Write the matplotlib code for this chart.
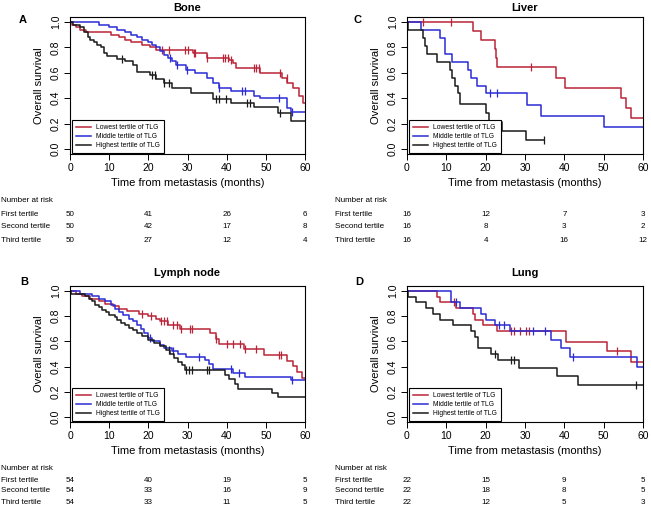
import numpy as np
import matplotlib
matplotlib.use("Agg")
import matplotlib.pyplot as plt
from matplotlib.transforms import blended_transform_factory

plt.rcParams['font.family'] = ['Liberation Sans', 'DejaVu Sans']

W, H = 651, 512

groups = ["Lowest tertile of TLG", "Middle tertile of TLG", "Highest tertile of TLG"]
colors = ["#bb2438", "#2b2bd6", "#1a1a1a"]
row_names = ["First tertile", "Second tertile", "Third tertile"]
risk_months = [0, 20, 40, 60]

# Bone: event times, survival after each event, censor times (low / mid / high)
bone_t = [
    [0.5, 1.5, 2.5, 4.0, 10.5, 12.5, 14.0, 15.5, 18.5, 20.5, 22.0, 31.5, 35.0, 40.5, 41.5, 42.5, 48.5, 54.0, 55.5, 57.0, 58.5, 59.5],
    [7.5, 10, 12, 14, 15.5, 17, 18.5, 20, 21, 22, 23, 24, 25, 26, 27, 29.5, 32, 35, 36.5, 38, 41, 47, 48.5, 55.5, 56.5],
    [0.7, 2.5, 3.5, 4.5, 5.2, 6, 7, 8, 8.8, 9.5, 12, 14, 16, 17, 20.5, 22, 24, 26, 31, 36.5, 41, 47, 53, 56.5],
]
bone_s = [
    [0.98, 0.96, 0.94, 0.92, 0.90, 0.88, 0.86, 0.84, 0.82, 0.80, 0.78, 0.76, 0.72, 0.70, 0.68, 0.64, 0.60, 0.56, 0.52, 0.48, 0.42, 0.36],
    [0.98, 0.96, 0.94, 0.92, 0.90, 0.88, 0.86, 0.84, 0.82, 0.80, 0.77, 0.74, 0.72, 0.69, 0.66, 0.62, 0.60, 0.56, 0.52, 0.48, 0.46, 0.42, 0.40, 0.32, 0.29],
    [0.98, 0.96, 0.92, 0.88, 0.86, 0.84, 0.82, 0.80, 0.76, 0.73, 0.71, 0.69, 0.66, 0.61, 0.58, 0.55, 0.52, 0.48, 0.44, 0.39, 0.36, 0.33, 0.28, 0.22],
]
bone_c = [
    [23.5, 25.2, 29.4, 30.1, 31.6, 32.0, 35.0, 39.0, 39.7, 40.3, 41.1, 46.9, 47.6, 48.3, 53.7, 55.4],
    [25.6, 27.3, 29.9, 38.0, 43.9, 44.6, 53.3, 56.7],
    [13.3, 20.9, 21.6, 24.0, 25.4, 37.4, 38.0, 39.9, 45.2, 46.0, 53.7],
]
bone_end = [60, 60, 60]
bone_risk = [[50, 41, 26, 6], [50, 42, 17, 8], [50, 27, 12, 4]]

# Liver
liver_t = [
    [16.8, 18.7, 22.3, 22.7, 23.0, 38.0, 40.1, 54.3, 55.8, 56.9],
    [3.6, 8.3, 9.6, 11.5, 15.5, 16.3, 17.9, 20.2, 30.6, 34.0, 50.1],
    [0.3, 4.0, 4.5, 5.0, 7.5, 11.0, 11.5, 12.1, 13.0, 13.5, 20.2, 20.9, 24.2, 30.3],
]
liver_s = [
    [0.929, 0.857, 0.786, 0.714, 0.643, 0.5625, 0.482, 0.402, 0.321, 0.241],
    [0.9375, 0.875, 0.75, 0.6875, 0.625, 0.5625, 0.5, 0.4375, 0.35, 0.2625, 0.175],
    [0.9375, 0.875, 0.8125, 0.75, 0.6875, 0.625, 0.5625, 0.5, 0.4375, 0.355, 0.284, 0.213, 0.142, 0.071],
]
liver_c = [[4.1, 11.3, 31.6], [21.0, 22.8], [34.8]]
liver_end = [60, 60, 34.8]
liver_risk = [[16, 12, 7, 3], [16, 8, 3, 2], [16, 4, 16, 12]]

# Lymph node
lymph_t = [
    [1.5, 3, 5, 7.5, 9, 11, 12.5, 14.5, 17.5, 20, 22, 23, 25, 28, 35.8, 37.2, 38, 44.5, 49.5, 55.5, 57, 58, 59.3],
    [2.5, 5.5, 7.5, 9, 10.5, 11.5, 12.5, 13.5, 15, 16, 17, 18, 19, 19.8, 21, 23, 24, 26, 27.5, 29.5, 34.5, 35.5, 36.5, 41.5, 44.8, 56.3],
    [0.3, 3.8, 4.8, 5.6, 6.5, 7.5, 8.2, 9.2, 10, 11.5, 12, 13, 14, 15, 16, 17, 18.5, 20, 21.5, 23, 24.5, 25.5, 26.5, 27.5, 28.5, 29.3, 39.6, 40.6, 42, 43, 51.5, 53],
]
lymph_s = [
    [0.98, 0.96, 0.94, 0.92, 0.90, 0.88, 0.86, 0.84, 0.82, 0.80, 0.78, 0.76, 0.73, 0.70, 0.665, 0.62, 0.58, 0.54, 0.49, 0.445, 0.405, 0.36, 0.31],
    [0.98, 0.96, 0.94, 0.92, 0.89, 0.86, 0.83, 0.81, 0.78, 0.76, 0.73, 0.70, 0.67, 0.63, 0.60, 0.57, 0.55, 0.52, 0.50, 0.48, 0.45, 0.42, 0.38, 0.35, 0.32, 0.29],
    [0.98, 0.96, 0.94, 0.92, 0.89, 0.87, 0.85, 0.83, 0.81, 0.79, 0.77, 0.75, 0.73, 0.71, 0.69, 0.67, 0.64, 0.61, 0.59, 0.56, 0.53, 0.50, 0.47, 0.44, 0.41, 0.37, 0.33, 0.30, 0.26, 0.22, 0.19, 0.155],
]
lymph_c = [
    [18.3, 20.8, 23.2, 24.0, 24.8, 26.3, 27.2, 28.4, 30.6, 31.2, 37.3, 40.2, 41.6, 43.5, 44.6, 47.5, 53.3, 53.8],
    [20.5, 26.3, 32.9, 41.0, 43.1, 56.7],
    [25.2, 29.6, 30.4, 31.1, 35.0, 35.4],
]
lymph_end = [60, 60, 60]
lymph_risk = [[54, 40, 19, 5], [54, 33, 16, 9], [54, 33, 11, 5]]

# Lung
lung_t = [
    [7.7, 8.3, 12.5, 16.8, 17.4, 19.3, 23.0, 40.3, 50.9, 57.0],
    [11.1, 13.4, 18.9, 20.2, 22.3, 26.1, 36.5, 39.2, 41.4, 58.5],
    [0.3, 2.4, 4.9, 6.6, 8.3, 11.7, 16.2, 17.4, 18.0, 21.4, 23.1, 28.6, 38.2, 43.5],
]
lung_s = [
    [0.955, 0.909, 0.864, 0.818, 0.773, 0.727, 0.682, 0.597, 0.522, 0.435],
    [0.909, 0.864, 0.818, 0.773, 0.727, 0.682, 0.614, 0.546, 0.478, 0.398],
    [0.955, 0.909, 0.864, 0.818, 0.773, 0.727, 0.682, 0.636, 0.545, 0.50, 0.45, 0.386, 0.322, 0.257],
]
lung_c = [
    [12.0, 26.4, 27.3, 28.8, 30.3, 31.0, 53.5],
    [12.5, 23.5, 24.6, 32.0, 35.0, 42.1],
    [22.3, 26.5, 27.1, 58.3],
]
lung_end = [60, 60, 60]
lung_risk = [[22, 15, 9, 5], [22, 18, 8, 5], [22, 12, 5, 3]]


def px(x0, y0, x1, y1):
    # pixel box -> figure fraction rect
    return [x0 / W, 1 - y1 / H, (x1 - x0) / W, (y1 - y0) / H]


def km_curve(ax, t, s, cens, end, color):
    t = np.asarray(t, float)
    s = np.asarray(s, float)
    x = np.r_[0, t, end]
    y = np.r_[1, s, s[-1]]
    line, = ax.step(x, y, where='post', color=color, lw=1.1)
    if len(cens):
        idx = np.searchsorted(t, cens, side='right')
        cy = np.r_[1, s][idx]
        ax.plot(cens, cy, ls='none', marker='|', ms=6, mew=0.9, color=color)
    return line


def panel(fig, rect, title, letter, letter_xy, t_all, s_all, c_all, ends, risk, table_x, table_y, title_pad):
    ax = fig.add_axes(px(*rect))
    handles = []
    for k in range(3):
        handles.append(km_curve(ax, t_all[k], s_all[k], c_all[k], ends[k], colors[k]))
    ax.set_xlim(0, 60)
    ax.set_ylim(-0.04, 1.04)
    ax.set_xticks(range(0, 61, 10))
    yt = np.arange(0, 1.01, 0.2)
    ax.set_yticks(yt)
    ax.set_yticklabels([f"{v:.1f}" for v in yt], rotation=90, va='center')
    ax.tick_params(direction='out', length=4, width=0.7, labelsize=7.5, pad=2.5)
    for sp in ax.spines.values():
        sp.set_linewidth(0.8)
    ax.set_xlabel("Time from metastasis (months)", fontsize=8, labelpad=3.5)
    ax.set_ylabel("Overall survival", fontsize=8, labelpad=5)
    ax.set_title(title, fontsize=8, fontweight='bold', pad=title_pad)
    leg = ax.legend(handles, groups, loc='lower left', bbox_to_anchor=(0.01, 0.005),
                    borderaxespad=0, fontsize=4.9, frameon=True, fancybox=False,
                    edgecolor='black', framealpha=1, borderpad=0.6, handlelength=2.2,
                    handletextpad=0.7, labelspacing=0.3)
    leg.get_frame().set_linewidth(0.8)
    fig.text(letter_xy[0] / W, 1 - letter_xy[1] / H, letter, fontsize=8,
             fontweight='bold', ha='center', va='center')

    # number at risk table
    tr = blended_transform_factory(ax.transData, fig.transFigure)
    fig.text(table_x / W, 1 - table_y[0] / H, "Number at risk", fontsize=5.8, va='center')
    for r in range(3):
        yy = 1 - table_y[r + 1] / H
        fig.text(table_x / W, yy, row_names[r], fontsize=5.8, va='center')
        for m, n in zip(risk_months, risk[r]):
            ax.text(m, yy, str(n), transform=tr, fontsize=5.8, ha='center', va='center')
    return ax


fig = plt.figure(figsize=(W / 100, H / 100), dpi=100)

top_rows = [201, 214, 227, 240]
bot_rows = [469, 480, 491, 502]

panel(fig, (70, 17, 305, 154), "Bone", "A", (23, 20), bone_t, bone_s, bone_c, bone_end,
      bone_risk, 1, top_rows, 4.5)
panel(fig, (407, 17, 643, 154), "Liver", "C", (358, 20), liver_t, liver_s, liver_c, liver_end,
      liver_risk, 335, top_rows, 4.5)
panel(fig, (70, 286, 305, 422), "Lymph node", "B", (24, 282), lymph_t, lymph_s, lymph_c, lymph_end,
      lymph_risk, 1, bot_rows, 7)
panel(fig, (407, 286, 643, 422), "Lung", "D", (359, 282), lung_t, lung_s, lung_c, lung_end,
      lung_risk, 335, bot_rows, 7)

fig.savefig("out.png", dpi=100)
